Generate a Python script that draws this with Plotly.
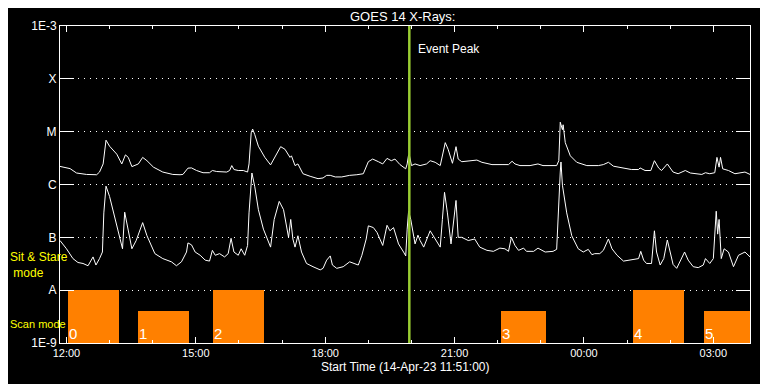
import plotly.graph_objects as go
import datetime as dt

# ---------------- data ----------------
long_times = ["11:51","12:05","12:14","12:28","12:42","12:46","12:51","12:55","13:00","13:10",
              "13:17","13:22","13:26","13:31","13:40","13:46","13:52","14:01","14:14","14:28",
              "14:38","14:42","14:49","14:54","15:01","15:10","15:19","15:23","15:29","15:36",
              "15:43","15:47","15:50","15:53","15:59","16:06","16:12","16:14","16:17","16:19",
              "16:22","16:27","16:36","16:44","16:50","16:58","17:04","17:11","17:13","17:18",
              "17:22","17:29","17:39","17:50","17:57","18:02","18:07","18:14","18:23","18:34",
              "18:44","18:53","19:00","19:06","19:14","19:20","19:26","19:32","19:37","19:44",
              "19:52","19:54","19:56","19:57","20:00","20:05","20:12","20:17","20:21","20:26",
              "20:33","20:40","20:43","20:47","20:51","20:57","21:02","21:05","21:10","21:19",
              "21:31","21:38","21:52","22:06","22:15","22:20","22:24","22:31","22:45","22:56",
              "23:03","23:22","23:25","23:27","23:30","23:31","23:34","23:41","23:50","00:04",
              "00:11","00:20","00:27","00:34","00:41","00:50","01:06","01:16","01:18","01:25",
              "01:33","01:38","01:44","01:48","01:56","02:04","02:11","02:21","02:28","02:44",
              "02:49","02:55","03:02","03:05","03:08","03:10","03:13","03:21","03:30","03:44",
              "03:51"]
long_flux = [2.2e-6, 2.0e-6, 1.65e-6, 1.55e-6, 1.53e-6, 1.72e-6, 2.45e-6, 6.9e-6, 5.3e-6, 3.75e-6,
             2.45e-6, 3.64e-6, 3.26e-6, 2.18e-6, 2.45e-6, 3.26e-6, 2.82e-6, 2.13e-6, 1.72e-6, 1.55e-6,
             1.53e-6, 1.55e-6, 2.04e-6, 2.06e-6, 1.84e-6, 1.67e-6, 1.67e-6, 1.84e-6, 1.76e-6, 1.76e-6,
             1.72e-6, 1.84e-6, 2.28e-6, 1.92e-6, 1.84e-6, 1.84e-6, 1.72e-6, 2.45e-6, 9.5e-6, 1.12e-5,
             8.8e-6, 5.3e-6, 3.26e-6, 2.35e-6, 3.26e-6, 5.2e-6, 4.64e-6, 3.26e-6, 3.49e-6, 2.28e-6,
             2.45e-6, 1.6e-6, 1.43e-6, 1.29e-6, 1.33e-6, 1.49e-6, 1.49e-6, 1.39e-6, 1.39e-6, 1.49e-6,
             1.53e-6, 1.6e-6, 2.7e-6, 3.03e-6, 2.7e-6, 2.45e-6, 3.12e-6, 2.82e-6, 3.03e-6, 2.38e-6,
             1.98e-6, 2.45e-6, 3.64e-6, 3.64e-6, 2.28e-6, 2.45e-6, 2.28e-6, 2.38e-6, 2.45e-6, 2.82e-6,
             2.63e-6, 2.28e-6, 3.49e-6, 6.2e-6, 4.64e-6, 2.52e-6, 5.2e-6, 3.03e-6, 2.7e-6, 2.82e-6,
             2.9e-6, 2.63e-6, 2.38e-6, 2.38e-6, 2.38e-6, 2.75e-6, 2.45e-6, 2.28e-6, 2.28e-6, 2.45e-6,
             2.28e-6, 2.28e-6, 2.82e-6, 1.51e-5, 1.09e-5, 1.35e-5, 6.2e-6, 3.49e-6, 2.63e-6, 2.28e-6,
             2.28e-6, 2.28e-6, 2.38e-6, 2.63e-6, 2.22e-6, 2.13e-6, 1.92e-6, 1.92e-6, 2.06e-6, 1.84e-6,
             1.84e-6, 2.82e-6, 2.04e-6, 1.84e-6, 2.45e-6, 1.72e-6, 1.6e-6, 1.84e-6, 1.65e-6, 1.55e-6,
             1.67e-6, 1.6e-6, 1.67e-6, 3.26e-6, 2.13e-6, 3.26e-6, 1.98e-6, 1.84e-6, 1.6e-6, 1.72e-6,
             1.55e-6]

short_times = ["11:51","12:00","12:09","12:16","12:23","12:30","12:37","12:41","12:46","12:50",
               "12:52","12:55","13:00","13:07","13:14","13:18","13:21","13:26","13:31","13:37",
               "13:46","13:52","14:03","14:14","14:26","14:33","14:40","14:47","14:49","14:54",
               "14:59","15:06","15:13","15:19","15:23","15:27","15:33","15:40","15:45","15:49",
               "15:53","15:59","16:03","16:08","16:12","16:14","16:18","16:22","16:27","16:34",
               "16:41","16:44","16:49","16:56","17:02","17:09","17:12","17:15","17:18","17:22",
               "17:27","17:34","17:43","17:53","17:57","18:02","18:07","18:10","18:16","18:25",
               "18:34","18:41","18:46","18:51","18:57","19:00","19:07","19:12","19:20","19:26",
               "19:30","19:35","19:42","19:49","19:52","19:54","19:56","19:59","20:03","20:05",
               "20:09","20:12","20:17","20:21","20:26","20:33","20:40","20:43","20:46","20:50",
               "20:55","21:02","21:05","21:10","21:19","21:28","21:35","21:45","21:54","22:03",
               "22:10","22:15","22:19","22:24","22:29","22:36","22:40","22:50","22:56","23:06",
               "23:17","23:22","23:24","23:27","23:28","23:30","23:36","23:43","23:52","23:59",
               "00:06","00:11","00:15","00:22","00:27","00:31","00:34","00:39","00:46","00:55",
               "01:06","01:16","01:19","01:23","01:27","01:34","01:38","01:41","01:46","01:51",
               "01:56","02:00","02:04","02:09","02:14","02:20","02:25","02:32","02:39","02:46",
               "02:49","02:55","03:00","03:04","03:06","03:08","03:11","03:15","03:21","03:28",
               "03:35","03:44","03:51"]
short_flux = [8.7e-8, 6.07e-8, 3.96e-8, 3.34e-8, 3.2e-8, 2.9e-8, 4.26e-8, 2.99e-8, 3.96e-8, 5.27e-8,
              2.9e-7, 9.3e-7, 5.92e-7, 2.52e-7, 1.07e-7, 6.07e-8, 2.99e-7, 1.24e-7, 6.07e-8, 8.7e-8,
              1.9e-7, 1.07e-7, 4.91e-8, 3.96e-8, 3.44e-8, 2.9e-8, 3.44e-8, 5.27e-8, 7.84e-8, 7.2e-8,
              5.27e-8, 4.58e-8, 3.7e-8, 3.55e-8, 5.67e-8, 4.58e-8, 4.91e-8, 4.26e-8, 4.91e-8, 9.58e-8,
              5.27e-8, 4.58e-8, 6.07e-8, 4.58e-8, 7.02e-8, 2.9e-7, 1.65e-6, 9.06e-7, 3.34e-7, 1.43e-7,
              8.07e-8, 6.53e-8, 2.18e-7, 4.79e-7, 3.34e-7, 1.0e-7, 2.18e-7, 9.3e-8, 6.53e-8, 1.07e-7,
              5.27e-8, 3.2e-8, 2.78e-8, 2.42e-8, 2.59e-8, 3.7e-8, 4.45e-8, 2.99e-8, 2.59e-8, 2.78e-8,
              3.44e-8, 3.2e-8, 2.99e-8, 4.58e-8, 9.3e-8, 1.65e-7, 1.53e-7, 1.24e-7, 7.02e-8, 1.69e-7,
              1.33e-7, 1.53e-7, 7.5e-8, 5.27e-8, 4.45e-8, 1.43e-7, 3.12e-7, 2.18e-7, 1.07e-7, 7.5e-8,
              1.1e-7, 8.7e-8, 6.53e-8, 9.3e-8, 1.33e-7, 9.3e-8, 6.53e-8, 2.18e-7, 7.11e-7, 2.9e-7,
              7.5e-8, 4.99e-7, 1.0e-7, 1.0e-7, 8.7e-8, 9.3e-8, 6.53e-8, 5.67e-8, 5.43e-8, 6.25e-8,
              6.07e-8, 5.43e-8, 1.0e-7, 7.02e-8, 5.67e-8, 6.25e-8, 5.43e-8, 5.43e-8, 6.25e-8, 5.27e-8,
              5.43e-8, 5.92e-8, 2.9e-7, 1.72e-6, 2.67e-6, 9.7e-7, 2.9e-7, 1.07e-7, 6.07e-8, 5.27e-8,
              5.92e-8, 4.7e-8, 4.91e-8, 4.91e-8, 5.67e-8, 7.5e-8, 9.3e-8, 6.07e-8, 4.58e-8, 3.55e-8,
              3.7e-8, 3.96e-8, 5.43e-8, 3.7e-8, 3.2e-8, 3.2e-8, 1.33e-7, 5.27e-8, 2.99e-8, 3.96e-8,
              8.9e-8, 5.27e-8, 3.07e-8, 2.59e-8, 3.7e-8, 5.27e-8, 3.7e-8, 2.78e-8, 2.67e-8, 2.99e-8,
              3.96e-8, 3.2e-8, 3.96e-8, 3.12e-7, 1.15e-7, 2.18e-7, 3.96e-8, 6.07e-8, 5.27e-8, 2.78e-8,
              4.58e-8, 5.27e-8, 4.26e-8]

mode_labels = ["0", "1", "2", "3", "4", "5"]
mode_start = ["12:02", "13:39", "15:24", "22:05", "01:08", "02:47"]
mode_end = ["13:13", "14:50", "16:35", "23:07", "02:19", "03:58"]
mode_kind = ["sit", "scan", "sit", "scan", "sit", "scan"]
mode_top = {"sit": 1e-8, "scan": 4.1e-9}
flux_floor = 1e-9

event_peak = "19:57"
x_start, x_end = "11:51", "03:51"

ytick_vals = [1e-9, 1e-8, 1e-7, 1e-6, 1e-5, 1e-4, 1e-3]
ytick_text = ["1E-9", "A", "B", "C", "M", "X", "1E-3"]
xtick_times = ["12:00", "15:00", "18:00", "21:00", "00:00", "03:00"]


def ts(hhmm):
    """Observation spans 14-Apr 11:51 to 15-Apr 03:51."""
    h = int(hhmm.split(":")[0])
    day = "2023-04-14" if h >= 11 else "2023-04-15"
    return f"{day} {hhmm}:00"


def minutes(hhmm):
    h, m = map(int, hhmm.split(":"))
    v = h * 60 + m
    return v if h >= 11 else v + 1440


def mid_ts(a, b):
    base = dt.datetime(2023, 4, 14)
    m = (minutes(a) + minutes(b)) / 2.0
    return (base + dt.timedelta(minutes=m)).strftime("%Y-%m-%d %H:%M:%S")


FONT = "Liberation Sans"
WHITE = "#ffffff"
YELLOW = "#ffff00"
ORANGE = "#ff8000"

fig = go.Figure()

# mode bars
fig.add_trace(go.Bar(
    x=[mid_ts(a, b) for a, b in zip(mode_start, mode_end)],
    y=[mode_top[k] - flux_floor for k in mode_kind],
    base=[flux_floor] * len(mode_kind),
    width=[(minutes(b) - minutes(a)) * 60000 for a, b in zip(mode_start, mode_end)],
    marker=dict(color=ORANGE, line=dict(width=0)),
    hoverinfo="skip", showlegend=False,
))

fig.add_trace(go.Scatter(x=[ts(t) for t in long_times], y=long_flux, mode="lines",
                         line=dict(color=WHITE, width=1), showlegend=False))
fig.add_trace(go.Scatter(x=[ts(t) for t in short_times], y=short_flux, mode="lines",
                         line=dict(color=WHITE, width=1), showlegend=False))

# event peak line
fig.add_shape(type="line", xref="x", yref="paper", x0=ts(event_peak), x1=ts(event_peak),
              y0=0, y1=1, line=dict(color="#9acd32", width=2.5), layer="above")

LEFT_EDGE = -0.0754  # left edge of the figure in paper units

ann = []
ann.append(dict(text="Event Peak", xref="x", yref="paper", x=ts(event_peak), y=0.926,
                xanchor="left", yanchor="middle", xshift=7, showarrow=False,
                font=dict(family=FONT, size=12, color=WHITE)))
ann.append(dict(text="GOES 14 X-Rays:", xref="paper", yref="paper", x=0.4957, y=1.031,
                xanchor="center", yanchor="middle", showarrow=False,
                font=dict(family=FONT, size=13, color=WHITE)))
ann.append(dict(text="Start Time (14-Apr-23 11:51:00)", xref="paper", yref="paper", x=0.5,
                y=-0.077, xanchor="center", yanchor="middle", showarrow=False,
                font=dict(family=FONT, size=12, color=WHITE)))
ann.append(dict(text="Sit & Stare<br>&nbsp;mode", xref="paper", yref="paper",
                x=LEFT_EDGE, y=0.245, xanchor="left", yanchor="middle", align="left",
                showarrow=False, font=dict(family=FONT, size=12, color=YELLOW)))
ann.append(dict(text="Scan mode", xref="paper", yref="paper", x=LEFT_EDGE, y=0.0586,
                xanchor="left", yanchor="middle", showarrow=False,
                font=dict(family=FONT, size=11, color=YELLOW)))
for lab, st in zip(mode_labels, mode_start):
    ann.append(dict(text=lab, xref="x", yref="paper", x=ts(st), y=0.031,
                    xanchor="left", yanchor="middle", showarrow=False, xshift=-1,
                    font=dict(family=FONT, size=15, color=WHITE)))

# page body adds an 8px offset; margins compensate so the plot box sits at
# x 60..750, y 19..343 in the photographed window
fig.update_layout(
    width=768, height=384,
    margin=dict(l=52, r=26, t=11, b=49),
    paper_bgcolor="black", plot_bgcolor="black",
    showlegend=False, bargap=0,
    annotations=ann,
    xaxis=dict(
        type="date", range=[ts(x_start), ts(x_end)],
        tickvals=[ts(t) for t in xtick_times], ticktext=xtick_times,
        ticks="inside", ticklen=6, tickcolor=WHITE, tickwidth=1,
        showline=True, linecolor=WHITE, linewidth=1, mirror="ticks",
        showgrid=False, zeroline=False,
        tickfont=dict(family=FONT, size=11, color=WHITE),
        minor=dict(dtick=3600000, tick0=ts("12:00"), ticks="inside", ticklen=3,
                   tickcolor=WHITE, tickwidth=1, showgrid=False),
    ),
    yaxis=dict(
        type="log", range=[-9, -3],
        tickvals=ytick_vals, ticktext=ytick_text,
        ticks="inside", ticklen=14, tickcolor=WHITE, tickwidth=1,
        showline=True, linecolor=WHITE, linewidth=1, mirror="ticks",
        showgrid=True, gridcolor=WHITE, gridwidth=1, griddash="1px,5px",
        zeroline=False,
        tickfont=dict(family=FONT, size=12, color=WHITE),
    ),
)

fig.write_html("out.html")
